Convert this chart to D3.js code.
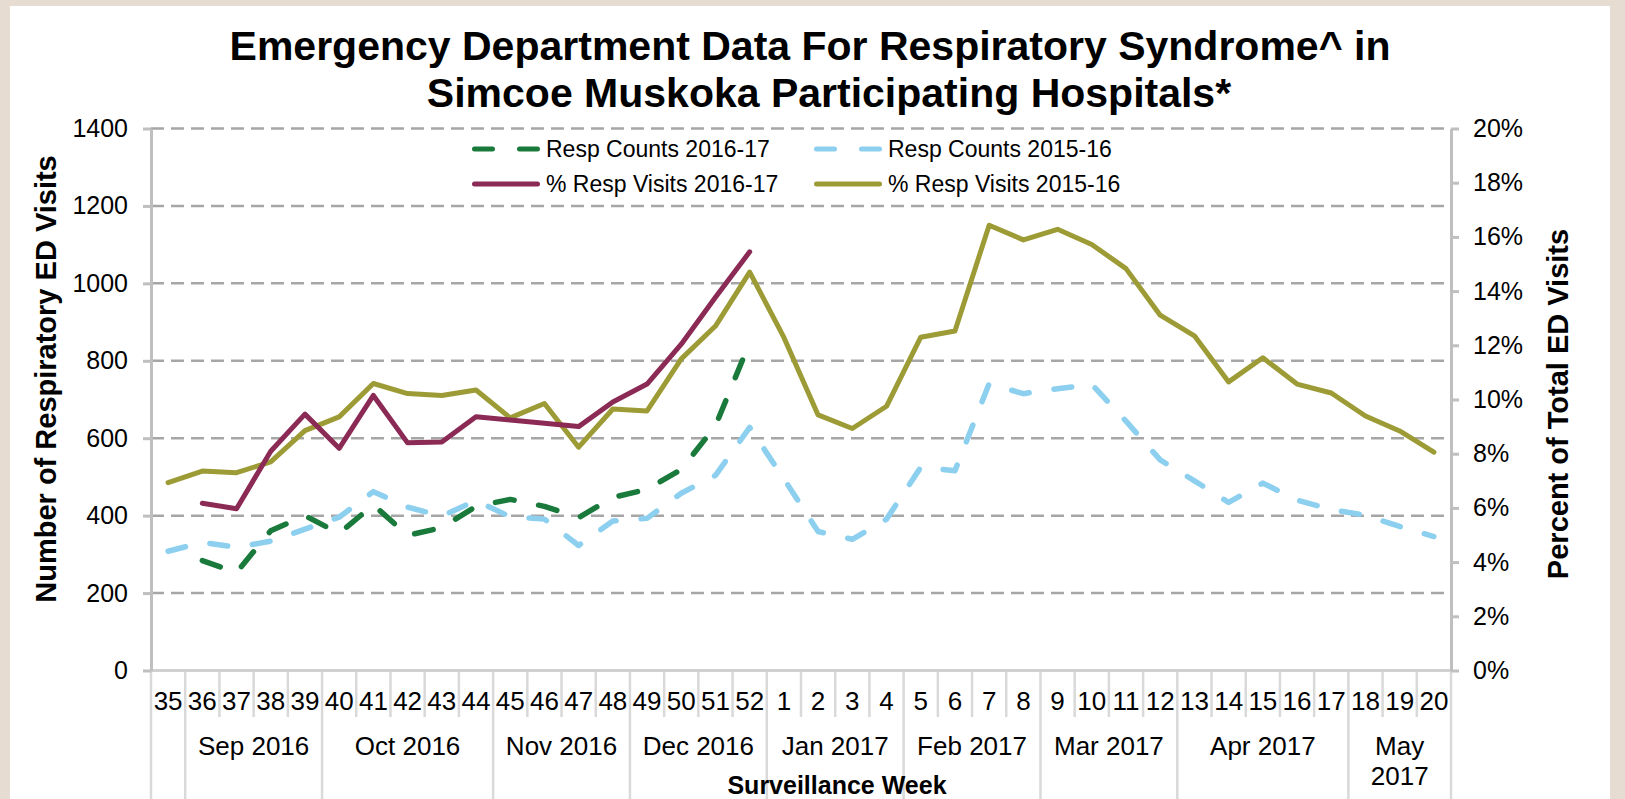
<!DOCTYPE html>
<html>
<head>
<meta charset="utf-8">
<script src="https://cdn.jsdelivr.net/npm/d3@7"></script>
<style>
  body { margin: 0; background: #fff; }
  svg text { font-family: "Liberation Sans", Arial, sans-serif; fill: #000; }
</style>
</head>
<body>
<svg id="chart" width="1625" height="799"></svg>
<script>
const weeks = ["35", "36", "37", "38", "39", "40", "41", "42", "43", "44", "45", "46", "47", "48", "49", "50", "51", "52",
  "1", "2", "3", "4", "5", "6", "7", "8", "9", "10", "11", "12", "13", "14", "15", "16", "17", "18", "19", "20"];
const monthLabels = ["", "Sep 2016", "Oct 2016", "Nov 2016", "Dec 2016", "Jan 2017", "Feb 2017", "Mar 2017", "Apr 2017", "May 2017"];
const monthSpans = [1, 4, 5, 4, 4, 4, 4, 4, 5, 3];

// counts, left axis
const respCounts1617 = [null, 284, 253, 361, 400, 354, 428, 349, 369, 424, 442, 424, 395, 447, 468, 519, 632, 847,
  null, null, null, null, null, null, null, null, null, null, null, null, null, null, null, null, null, null, null, null];
const respCounts1516 = [308, 331, 318, 334, 365, 396, 462, 422, 399, 439, 397, 391, 323, 386, 393, 458, 504, 628,
  495, 359, 339, 391, 525, 516, 741, 715, 728, 739, 644, 544, 490, 434, 484, 440, 416, 401, 372, 346];
// percent of ED visits, right axis
const pctVisits1617 = [null, 6.17, 5.97, 8.09, 9.46, 8.2, 10.15, 8.4, 8.43, 9.36, 9.24, 9.12, 9.0, 9.91, 10.57, 12.04, 13.77, 15.45,
  null, null, null, null, null, null, null, null, null, null, null, null, null, null, null, null, null, null, null, null];
const pctVisits1516 = [6.93, 7.36, 7.3, 7.7, 8.85, 9.36, 10.59, 10.22, 10.15, 10.35, 9.32, 9.85, 8.24, 9.65, 9.58, 11.5, 12.71, 14.7,
  12.29, 9.43, 8.93, 9.75, 12.3, 12.53, 16.43, 15.89, 16.28, 15.72, 14.83, 13.11, 12.35, 10.65, 11.54, 10.57, 10.24, 9.39, 8.84, 8.06];

const leftTicks = [0, 200, 400, 600, 800, 1000, 1200, 1400];
const rightTicks = [0, 2, 4, 6, 8, 10, 12, 14, 16, 18, 20];

const green = "#1a7a3c", blue = "#8ccfee", maroon = "#8b2a55", olive = "#9c9b36";

const svg = d3.select("#chart");
const W = 1625, H = 799;
const plot = { left: 151, right: 1451, top: 128.5, bottom: 670.5 };

// beige frame around the white panel
svg.append("rect").attr("width", W).attr("height", H).attr("fill", "#e6dcd1");
svg.append("rect").attr("x", 10).attr("y", 6).attr("width", 1600).attr("height", H).attr("fill", "#fff");

const x = d3.scaleBand().domain(weeks).range([plot.left, plot.right]);
const yL = d3.scaleLinear().domain([0, 1400]).range([plot.bottom, plot.top]);
const yR = d3.scaleLinear().domain([0, 20]).range([plot.bottom, plot.top]);
const cx = w => x(w) + x.bandwidth() / 2;

// title (the two lines sit slightly off each other in the original)
svg.append("g").attr("font-size", 41).attr("font-weight", "bold").attr("text-anchor", "middle")
  .selectAll("text")
  .data(["Emergency Department Data For Respiratory Syndrome^ in", "Simcoe Muskoka Participating Hospitals*"])
  .join("text")
  .attr("x", (d, i) => i ? 829 : 810)
  .attr("y", (d, i) => 60 + i * 47)
  .text(d => d);

// gridlines
svg.append("g").selectAll("line")
  .data(leftTicks.filter(d => d > 0))
  .join("line")
  .attr("x1", plot.left).attr("x2", plot.right)
  .attr("y1", d => yL(d)).attr("y2", d => yL(d))
  .attr("stroke", "#a6a6a6").attr("stroke-width", 2.5).attr("stroke-dasharray", "13,7");

// category separators below the axis
const bounds = d3.range(weeks.length + 1).map(i => plot.left + i * x.step());
let acc = 0;
const monthStarts = monthSpans.map(s => { const v = acc; acc += s; return v; });
const longIdx = new Set([...monthStarts, weeks.length]);
svg.append("g").selectAll("line")
  .data(bounds)
  .join("line")
  .attr("x1", d => d).attr("x2", d => d)
  .attr("y1", plot.bottom)
  .attr("y2", (d, i) => longIdx.has(i) ? H : 717)
  .attr("stroke", "#d9d9d9").attr("stroke-width", 2.5);

svg.append("line")
  .attr("x1", plot.left).attr("x2", plot.right)
  .attr("y1", plot.bottom).attr("y2", plot.bottom)
  .attr("stroke", "#d0d0d0").attr("stroke-width", 3);

// left axis
const gL = svg.append("g").attr("transform", `translate(${plot.left},0)`)
  .call(d3.axisLeft(yL).tickValues(leftTicks).tickSize(8).tickSizeOuter(0).tickPadding(15).tickFormat(d3.format("d")));
gL.attr("font-size", 25);
gL.select(".domain").attr("stroke", "#bfbfbf").attr("stroke-width", 3);
gL.selectAll(".tick line").attr("stroke", "#bfbfbf").attr("stroke-width", 3);

// right axis
const gR = svg.append("g").attr("transform", `translate(${plot.right},0)`)
  .call(d3.axisRight(yR).tickValues(rightTicks).tickSize(8).tickSizeOuter(0).tickPadding(14).tickFormat(d => d + "%"));
gR.attr("font-size", 25);
gR.select(".domain").attr("stroke", "#bfbfbf").attr("stroke-width", 3);
gR.selectAll(".tick line").attr("stroke", "#bfbfbf").attr("stroke-width", 3);

// week labels
const gB = svg.append("g").attr("transform", `translate(0,${plot.bottom})`)
  .call(d3.axisBottom(x).tickSize(0).tickPadding(21));
gB.attr("font-size", 26);
gB.select(".domain").remove();

// month labels
const months = monthLabels.map((label, i) => ({
  label,
  mid: plot.left + (monthStarts[i] + monthSpans[i] / 2) * x.step(),
  lines: monthSpans[i] < 4 ? label.split(" ") : [label]
}));
svg.append("g").attr("font-size", 26).attr("text-anchor", "middle")
  .selectAll("text")
  .data(months.filter(m => m.label))
  .join("text")
  .attr("x", d => d.mid)
  .attr("y", 755)
  .each(function (d) {
    d3.select(this).selectAll("tspan").data(d.lines).join("tspan")
      .attr("x", d.mid)
      .attr("dy", (t, i) => i ? 30 : 0)
      .text(t => t);
  });

// axis titles
svg.append("text")
  .attr("x", 837).attr("y", 794)
  .attr("text-anchor", "middle").attr("font-size", 25).attr("font-weight", "bold")
  .text("Surveillance Week");
svg.append("text")
  .attr("transform", "translate(56,379) rotate(-90)")
  .attr("text-anchor", "middle").attr("font-size", 29).attr("font-weight", "bold")
  .text("Number of Respiratory ED Visits");
svg.append("text")
  .attr("transform", "translate(1568,404) rotate(-90)")
  .attr("text-anchor", "middle").attr("font-size", 29).attr("font-weight", "bold")
  .text("Percent of Total ED Visits");

// series
const series = [
  { values: respCounts1516, y: yL, color: blue, dash: "18,25", width: 5.5 },
  { values: respCounts1617, y: yL, color: green, dash: "19,25", width: 5.5 },
  { values: pctVisits1516, y: yR, color: olive, dash: null, width: 5 },
  { values: pctVisits1617, y: yR, color: maroon, dash: null, width: 5 }
];
svg.append("g").selectAll("path")
  .data(series)
  .join("path")
  .attr("fill", "none")
  .attr("stroke", d => d.color)
  .attr("stroke-width", d => d.width)
  .attr("stroke-dasharray", d => d.dash)
  .attr("stroke-linecap", "round")
  .attr("stroke-linejoin", "round")
  .attr("d", s => d3.line()
    .defined(d => d.v != null)
    .x(d => cx(d.w))
    .y(d => s.y(d.v))(weeks.map((w, i) => ({ w, v: s.values[i] }))));

// legend
const legendItems = [
  { label: "Resp Counts 2016-17", color: green, dash: "18,27", col: 0, row: 0 },
  { label: "Resp Counts 2015-16", color: blue, dash: "18,27", col: 1, row: 0 },
  { label: "% Resp Visits 2016-17", color: maroon, dash: null, col: 0, row: 1 },
  { label: "% Resp Visits 2015-16", color: olive, dash: null, col: 1, row: 1 }
];
const lg = svg.append("g").selectAll("g")
  .data(legendItems)
  .join("g")
  .attr("transform", d => `translate(${546 + d.col * 342},${149 + d.row * 35})`);
lg.append("line")
  .attr("x1", -71.5).attr("x2", -8.5)
  .attr("stroke", d => d.color).attr("stroke-width", 5)
  .attr("stroke-linecap", "round")
  .attr("stroke-dasharray", d => d.dash);
lg.append("text")
  .attr("dy", "0.35em")
  .attr("font-size", 23)
  .text(d => d.label);
</script>
</body>
</html>
